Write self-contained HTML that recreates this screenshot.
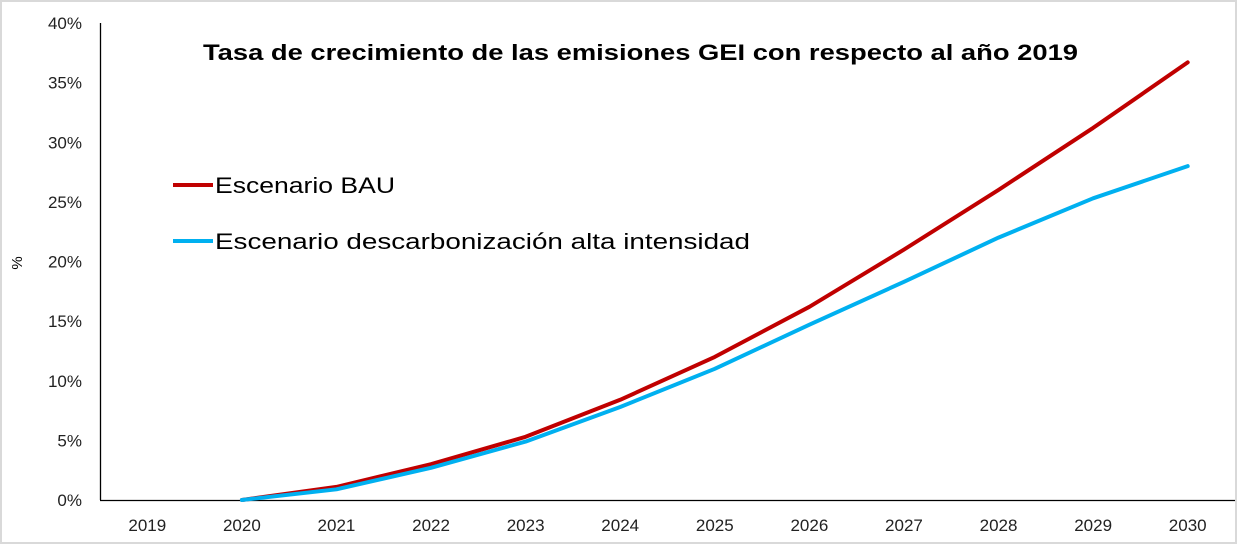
<!DOCTYPE html>
<html><head><meta charset="utf-8"><style>
html,body{margin:0;padding:0;background:#fff}
svg{display:block;font-family:"Liberation Sans",sans-serif}
</style></head><body>
<svg id="chart" width="1238" height="546" viewBox="0 0 1238 546" xmlns="http://www.w3.org/2000/svg">
<rect x="1" y="1" width="1235" height="542" fill="#fff" stroke="#d9d9d9" stroke-width="2"/>
<text x="203" y="60" font-size="22" font-weight="bold" textLength="875" lengthAdjust="spacingAndGlyphs">Tasa de crecimiento de las emisiones GEI con respecto al año 2019</text>
<text transform="translate(22,263) rotate(-90)" font-size="15" text-anchor="middle">%</text>
<g id="yticks"></g><g id="xticks"></g>
<line x1="100.5" y1="23" x2="100.5" y2="500" stroke="#000" stroke-width="1.3"/>
<line x1="100" y1="500.5" x2="1235" y2="500.5" stroke="#000" stroke-width="1.3"/>
<g id="series"></g>
<g>
<line x1="173" y1="185" x2="213" y2="185" stroke="#c00000" stroke-width="4"/>
<text x="215" y="193" font-size="22" textLength="180" lengthAdjust="spacingAndGlyphs">Escenario BAU</text>
<line x1="173" y1="241" x2="213" y2="241" stroke="#00b0f0" stroke-width="4"/>
<text x="215" y="249" font-size="22" textLength="535" lengthAdjust="spacingAndGlyphs">Escenario descarbonización alta intensidad</text>
</g>
</svg>
<script>
const years=["2019","2020","2021","2022","2023","2024","2025","2026","2027","2028","2029","2030"];
const bau=[null,0,1.1,3.0,5.3,8.4,12.0,16.2,21.0,26.0,31.2,36.7];
const decarb=[null,0,0.9,2.7,4.9,7.8,11.0,14.7,18.3,22.0,25.3,28.0];
const yTicks=[0,5,10,15,20,25,30,35,40];
const NS="http://www.w3.org/2000/svg";
const x0=100,x1=1235,y0=500,y1=23,yMax=40;
const step=(x1-x0)/years.length;
const xs=i=>x0+step*(i+0.5);
const ys=v=>y0-(v/yMax)*(y0-y1);
const yg=document.getElementById('yticks');
yTicks.forEach(t=>{
  const el=document.createElementNS(NS,'text');
  
  
  el.setAttribute('x',82);el.setAttribute('y',ys(t)+6);
  el.setAttribute('text-anchor','end');el.setAttribute('font-size','17');el.setAttribute('fill','#222');
  el.textContent=t+'%';yg.appendChild(el);
});
const xg=document.getElementById('xticks');
years.forEach((yr,i)=>{
  const el=document.createElementNS(NS,'text');
  
  
  el.setAttribute('x',xs(i));el.setAttribute('y',531);
  el.setAttribute('text-anchor','middle');el.setAttribute('font-size','17');el.setAttribute('fill','#222');
  el.textContent=yr;xg.appendChild(el);
});
const sg=document.getElementById('series');
function draw(vals,color,name){
  const pts=[];vals.forEach((v,i)=>{if(v!==null)pts.push(xs(i).toFixed(1)+','+ys(v).toFixed(1));});
  const p=document.createElementNS(NS,'polyline');
  
  
  p.setAttribute('points',pts.join(' '));p.setAttribute('fill','none');
  p.setAttribute('stroke',color);p.setAttribute('stroke-width','4');
  p.setAttribute('stroke-linecap','round');p.setAttribute('stroke-linejoin','round');
  sg.appendChild(p);
}
draw(bau,'#c00000','line-bau');
draw(decarb,'#00b0f0','line-decarbonization');
</script>
</body></html>
